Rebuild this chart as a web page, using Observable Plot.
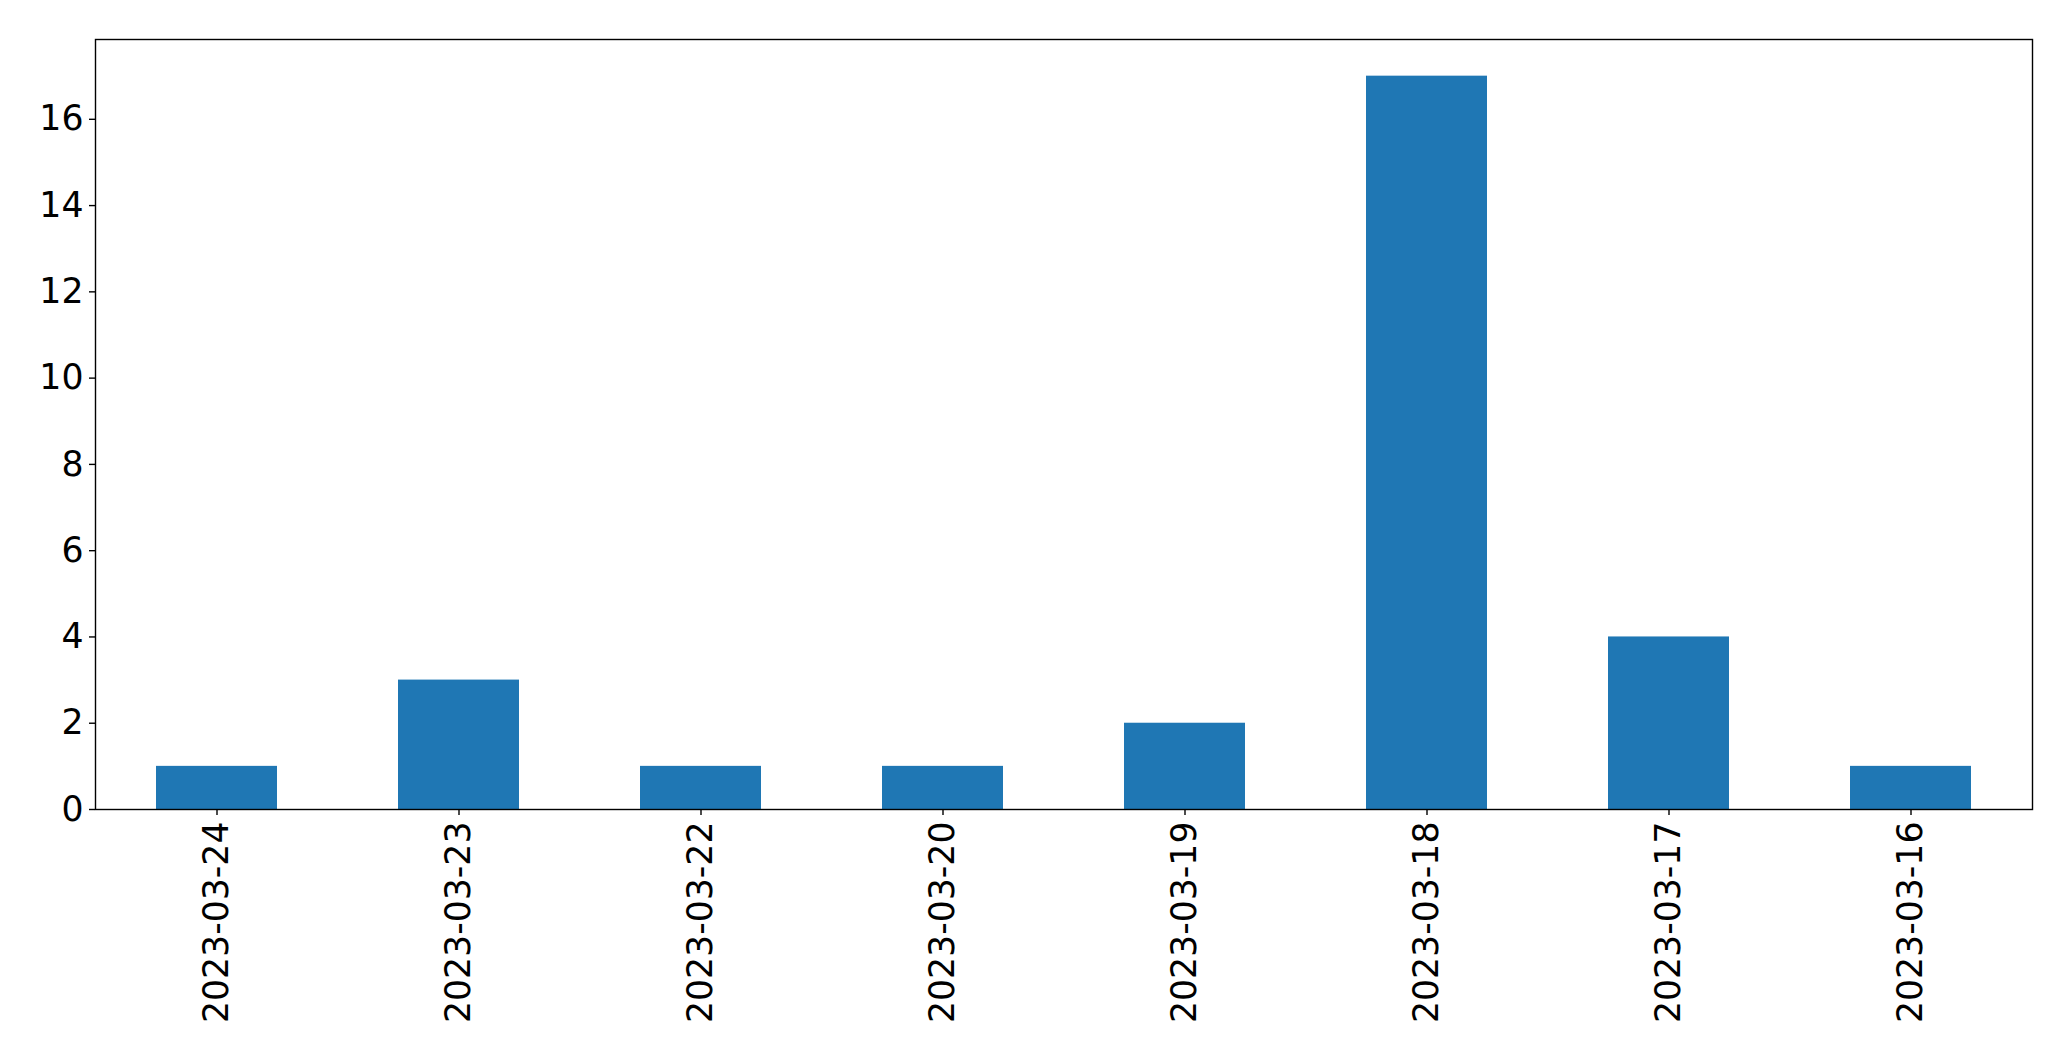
<!DOCTYPE html>
<html>
<head>
<meta charset="utf-8">
<script src="https://cdn.jsdelivr.net/npm/d3@7"></script>
<script src="https://cdn.jsdelivr.net/npm/@observablehq/plot@0.6"></script>
<style>
  html, body { margin: 0; padding: 0; background: #fff; }
  #chart svg { display: block; }
</style>
</head>
<body>
<div id="chart"></div>
<script>
const dates = ["2023-03-24", "2023-03-23", "2023-03-22", "2023-03-20", "2023-03-19", "2023-03-18", "2023-03-17", "2023-03-16"];
const counts = [1, 3, 1, 1, 2, 17, 4, 1];
const yTicks = [0, 2, 4, 6, 8, 10, 12, 14, 16];

const data = dates.map((d, i) => ({date: d, count: counts[i]}));

const chart = Plot.plot({
  width: 2071,
  height: 1061,
  marginLeft: 95,
  marginRight: 39,
  marginTop: 39,
  marginBottom: 252,
  style: {fontFamily: "'DejaVu Sans', sans-serif", fontSize: "34.7px", color: "#000", background: "#fff"},
  x: {domain: dates, paddingInner: 0.5, paddingOuter: 0.25, label: null},
  y: {domain: [0, 17.85], label: null},
  marks: [
    Plot.barY(data, {x: "date", y: "count", fill: "#1f77b4"}),
    Plot.frame({stroke: "#000", strokeWidth: 1.4}),
    Plot.axisY({ticks: yTicks, tickSize: 6, tickPadding: 6, strokeWidth: 1.4, label: null, tickFormat: d => String(d)}),
    Plot.axisX({tickSize: 6, tickPadding: 6, tickRotate: -90, strokeWidth: 1.4, label: null})
  ]
});
document.getElementById("chart").appendChild(chart);
</script>
</body>
</html>
